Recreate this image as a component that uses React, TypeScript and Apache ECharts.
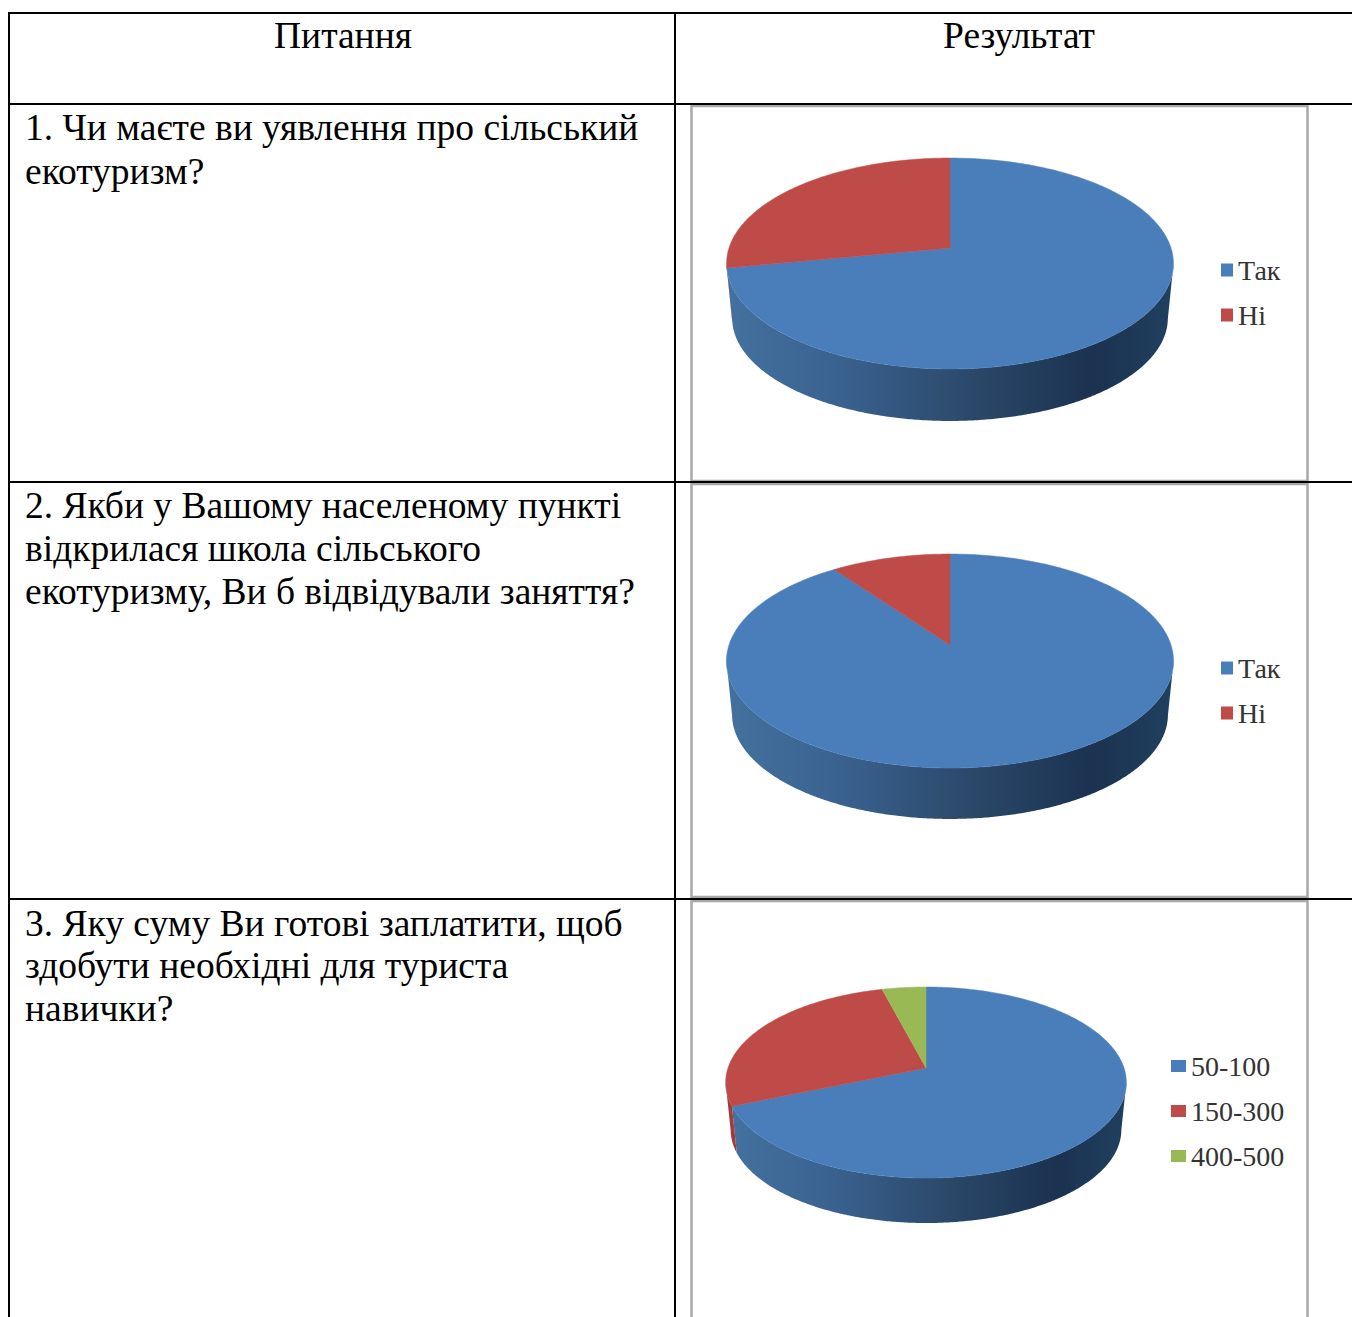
import React, { useEffect, useRef } from "react";
import * as echarts from "echarts";

// ---- data ----
const headers = ["Питання", "Результат"];
const question1 = ["1. Чи маєте ви уявлення про сільський", "екотуризм?"];
const question2 = ["2. Якби у Вашому населеному пункті", "відкрилася школа сільського", "екотуризму, Ви б відвідували заняття?"];
const question3 = ["3. Яку суму Ви готові заплатити, щоб", "здобути необхідні для туриста", "навички?"];

const pie1Labels = ["Так", "Ні"];
const pie1Values = [72, 28];
const pie2Labels = ["Так", "Ні"];
const pie2Values = [90, 10];
const pie3Labels = ["50-100", "150-300", "400-500"];
const pie3Values = [68.7, 27.2, 4.1];

// ---- styles & layout ----
const FONT = '"Liberation Serif", "Times New Roman", serif';
const sliceColors = ["#4a7ebb", "#be4b48", "#98b954"];
const sideDark = ["", "#a23c3a", "#7f9a45"];
const sideBlue = [
  { offset: 0, color: "#44719f" },
  { offset: 0.25, color: "#3a6290" },
  { offset: 0.55, color: "#2b4869" },
  { offset: 0.82, color: "#1b3250" },
  { offset: 1, color: "#20405f" },
];

type Geo = { cx: number; ay: number; rx: number; ry: number; k: number; scale: number; shift: number };
const geo1: Geo = { cx: 950, ay: 248, rx: 221, ry: 103.2, k: 0.147, scale: 0.975, shift: 55 };
const geo2: Geo = { cx: 950, ay: 645, rx: 221, ry: 104.6, k: 0.1497, scale: 0.975, shift: 54 };
const geo3: Geo = { cx: 926, ay: 1068, rx: 198, ry: 93.3, k: 0.152, scale: 0.975, shift: 47.75 };

function project(g: Geo, t: number, bottom: boolean) {
  const s = bottom ? g.scale : 1;
  const oy = bottom ? g.shift : 0;
  const u = Math.sin(t);
  const v = Math.cos(t);
  const w = 1 + g.k * v;
  return [g.cx + (g.rx * s * u) / w, g.ay + oy - (g.ry * s * v) / w];
}

function sliceSeries(labels: string[], values: number[], g: Geo) {
  const total = values.reduce((a, b) => a + b, 0);
  const out: any[] = [];
  let before = 0;
  labels.forEach((name, i) => {
    const startShare = before / total;
    before += values[i];
    const renderTop = (_p: any, api: any) => {
      const start = startShare * Math.PI * 2;
      const end = start + (api.value(0) / total) * Math.PI * 2;
      const pts: number[][] = [[g.cx, g.ay]];
      const n = Math.max(4, Math.ceil((end - start) / (Math.PI / 180)));
      for (let j = 0; j <= n; j++) pts.push(project(g, start + ((end - start) * j) / n, false));
      return {
        type: "polygon",
        shape: { points: pts },
        style: { fill: sliceColors[i], stroke: sliceColors[i], lineWidth: 0.5 },
      };
    };
    const renderSide = (_p: any, api: any) => {
      const start = startShare * Math.PI * 2;
      const end = start + (api.value(0) / total) * Math.PI * 2;
      const top: number[][] = [];
      const bot: number[][] = [];
      const n = Math.max(4, Math.ceil((end - start) / (Math.PI / 360)));
      for (let j = 0; j <= n; j++) {
        const t = start + ((end - start) * j) / n;
        if (Math.cos(t) > -g.k) continue; // only the front-facing wall is visible
        top.push(project(g, t, false));
        bot.push(project(g, t, true));
      }
      if (top.length < 2) return { type: "group", children: [] };
      const fill = i === 0 ? new echarts.graphic.LinearGradient(0, 0, 1, 0, sideBlue) : sideDark[i];
      return {
        type: "polygon",
        shape: { points: top.concat(bot.reverse()) },
        style: { fill },
      };
    };
    out.push({
      type: "custom",
      name,
      coordinateSystem: "none",
      silent: true,
      z: 2,
      itemStyle: { color: sliceColors[i] },
      data: [[values[i]]],
      renderItem: renderSide,
    });
    out.push({
      type: "custom",
      name,
      coordinateSystem: "none",
      silent: true,
      z: 3,
      itemStyle: { color: sliceColors[i] },
      data: [[values[i]]],
      renderItem: renderTop,
    });
  });
  return out;
}

function legendFor(labels: string[], left: number, top: number, iconW: number, iconH: number) {
  return {
    orient: "vertical",
    left,
    top,
    padding: 0,
    itemWidth: iconW,
    itemHeight: iconH,
    itemGap: 17,
    selectedMode: false,
    data: labels.map((name, i) => ({ name, icon: "rect", itemStyle: { color: sliceColors[i] } })),
    textStyle: { fontFamily: FONT, fontSize: 28, color: "#333", lineHeight: 28 },
  };
}

const textLine = (text: string, x: number, y: number, align = "left") => ({
  type: "text",
  x,
  y,
  silent: true,
  style: { text, fill: "#000", font: `37.5px ${FONT}`, textAlign: align, textVerticalAlign: "middle" },
});

const blackLine = (x1: number, y1: number, x2: number, y2: number) => ({
  type: "line",
  silent: true,
  z: 5,
  shape: { x1, y1, x2, y2 },
  style: { stroke: "#000", lineWidth: 2 },
});

const frame = (x: number, y: number, w: number, h: number) => ({
  type: "rect",
  silent: true,
  z: 1,
  shape: { x, y, width: w, height: h },
  style: { fill: "#fff", stroke: "#a8a8a8", lineWidth: 2.5 },
});

function blockText(lines: string[], ys: number[]) {
  return lines.map((l, i) => textLine(l, 25, ys[i]));
}

export default function App() {
  const ref = useRef<HTMLDivElement>(null);
  useEffect(() => {
    const chart = echarts.init(ref.current!, undefined, { renderer: "svg" });
    chart.setOption({
      animation: false,
      backgroundColor: "#fff",
      legend: [
        legendFor(pie1Labels, 1221, 256, 12, 13),
        legendFor(pie2Labels, 1221, 654, 12, 13),
        legendFor(pie3Labels, 1171, 1052, 15, 12),
      ],
      graphic: {
        elements: [
          frame(691.5, 106, 616, 375),
          frame(691.5, 484, 616, 413),
          frame(691.5, 901, 616, 440),
          blackLine(9, 13, 1352, 13),
          blackLine(9, 104, 1352, 104),
          blackLine(9, 482, 1352, 482),
          blackLine(9, 899, 1352, 899),
          blackLine(9, 12, 9, 1317),
          blackLine(675, 12, 675, 1317),
          textLine(headers[0], 343, 35, "center"),
          textLine(headers[1], 1019, 35, "center"),
          ...blockText(question1, [127, 171]),
          ...blockText(question2, [505, 548, 591]),
          ...blockText(question3, [923, 965, 1008]),
        ],
      },
      series: [
        ...sliceSeries(pie1Labels, pie1Values, geo1),
        ...sliceSeries(pie2Labels, pie2Values, geo2),
        ...sliceSeries(pie3Labels, pie3Values, geo3),
      ],
    });
    return () => chart.dispose();
  }, []);
  return <div ref={ref} style={{ position: "absolute", left: 0, top: 0, width: 1352, height: 1317 }} />;
}
